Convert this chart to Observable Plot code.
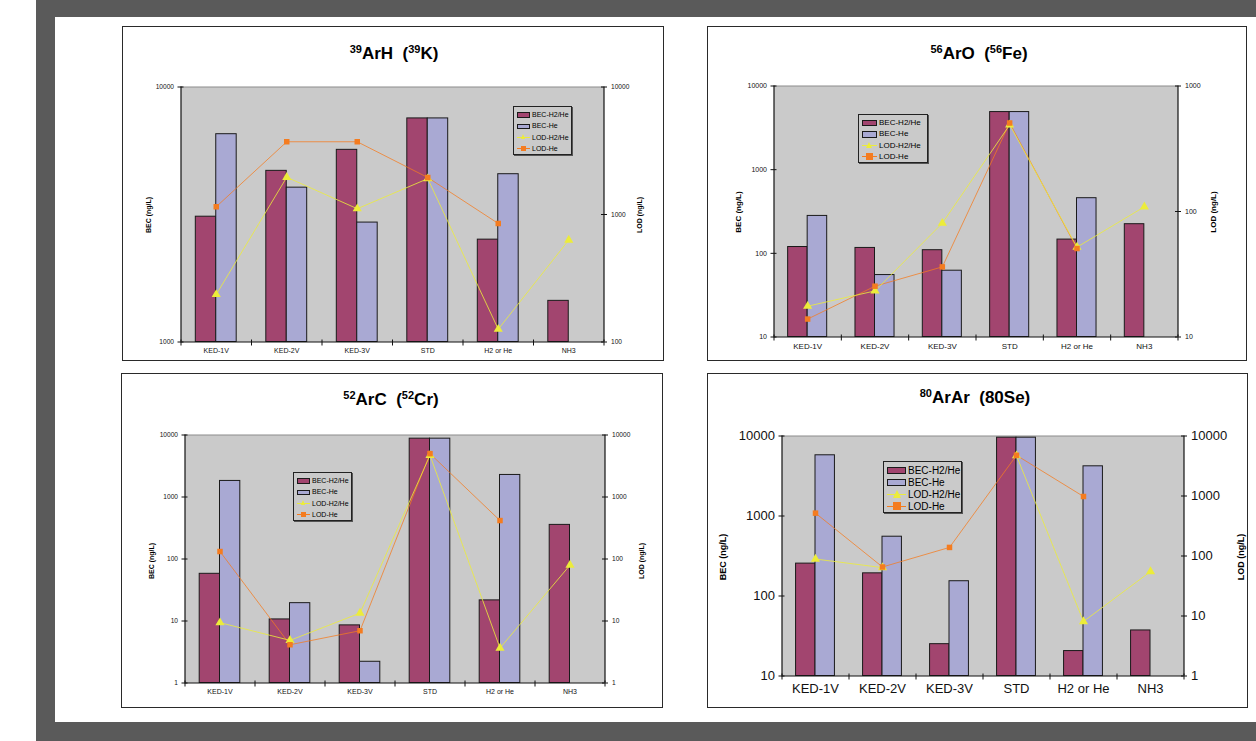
<!DOCTYPE html>
<html>
<head>
<meta charset="utf-8">
<script src="https://cdn.jsdelivr.net/npm/d3@7"></script>
<script src="https://cdn.jsdelivr.net/npm/@observablehq/plot@0.6"></script>
<style>
  html, body { margin: 0; padding: 0; background: #ffffff; }
  body { width: 1256px; height: 741px; position: relative; overflow: hidden; font-family: "Liberation Sans", Arial, sans-serif; }
  #dark { position: absolute; left: 36px; top: 0; width: 1220px; height: 741px; background: #5a5a5a; }
  #sheet { position: absolute; left: 55px; top: 17px; width: 1201px; height: 705px; background: #ffffff; }
  .panel { position: absolute; border: 1.5px solid #2a2a2a; box-sizing: border-box; background: #fff; }
  .panel svg { position: absolute; left: 0; top: 0; }
  .title { position: absolute; font-weight: bold; font-size: 17px; white-space: pre; transform: translateX(-50%); color: #000; line-height: 20px; }
  .title sup { font-size: 11px; vertical-align: 6px; line-height: 0; }
  .ylab { position: absolute; font-weight: bold; white-space: nowrap; transform: translate(-50%, -50%) rotate(-90deg); color: #000; }
  .legend { position: absolute; border: 1px solid #222; box-shadow: 1px 1px 0 #555; box-sizing: border-box; }
  .legend .row { position: absolute; left: 0; display: flex; align-items: center; white-space: nowrap; color: #000; }
  .sw { position: relative; display: inline-block; }
</style>
</head>
<body>
<div id="dark"></div>
<div id="sheet"></div>
<script>
// ---------- data ----------
const categories = ["KED-1V", "KED-2V", "KED-3V", "STD", "H2 or He", "NH3"];
const seriesNames = ["BEC-H2/He", "BEC-He", "LOD-H2/He", "LOD-He"];

// 39ArH (39K)
const arh_becH2He = [3100, 4690, 5670, 7530, 2520, 1450];
const arh_becHe   = [6530, 4030, 2940, 7530, 4550, null];
const arh_lodH2He = [236, 1960, 1110, 1910, 126, 630];
const arh_lodHe   = [1150, 3720, 3720, 1950, 850, null];

// 56ArO (56Fe)
const aro_becH2He = [119, 116, 109, 4880, 146, 223];
const aro_becHe   = [280, 55, 62, 4880, 456, null];
const aro_lodH2He = [17.6, 23.3, 80.7, 490, 52, 109];
const aro_lodHe   = [13.9, 25.4, 36.2, 507, 50.7, null];

// 52ArC (52Cr)
const arc_becH2He = [57.7, 10.6, 8.5, 8730, 21.5, 355];
const arc_becHe   = [1816, 19.4, 2.2, 8730, 2268, null];
const arc_lodH2He = [9.4, 4.87, 13.4, 4700, 3.66, 79.6];
const arc_lodHe   = [132, 4.14, 6.97, 5000, 417, null];

// 80ArAr (80Se)
const arar_becH2He = [254, 192, 25, 9530, 20.5, 37.1];
const arar_becHe   = [5740, 551, 153, 9530, 4180, null];
const arar_lodH2He = [89, 64, null, 4700, 8.1, 55];
const arar_lodHe   = [518, 65.6, 139, 4770, 981, null];

// axis domains (left BEC, right LOD)
const arh_left = [1000, 10000], arh_right = [100, 10000];
const aro_left = [10, 10000],   aro_right = [10, 1000];
const arc_left = [1, 10000],    arc_right = [1, 10000];
const arar_left = [10, 10000],  arar_right = [1, 10000];

// ---------- style ----------
const C = { bar1: "#a2456f", bar2: "#a9a9d3", lod1: "#ecec3a", lod2: "#f47c20", plotBg: "#cacaca" };

const panels = [
  { pre1: "39", main1: "ArH", pre2: "39", main2: "K)", frame: [122, 26, 542, 335],
    m: [61, 60, 19, 59], tcx: 271, ty: 17, left: arh_left, right: arh_right,
    b1: arh_becH2He, b2: arh_becHe, l1: arh_lodH2He, l2: arh_lodHe,
    fs: 6.6, cfs: 7, lab: { fs: 7, bx: 25, lx: 516, cy: 188 },
    leg: { x: 390, y: 79, w: 59, h: 49, fs: 7 } },
  { pre1: "56", main1: "ArO", pre2: "56", main2: "Fe)", frame: [707, 26, 540, 335],
    m: [60, 69, 24, 67], tcx: 271, ty: 17, left: aro_left, right: aro_right,
    b1: aro_becH2He, b2: aro_becHe, l1: aro_lodH2He, l2: aro_lodHe,
    fs: 7, cfs: 8, lab: { fs: 8, bx: 30, lx: 505, cy: 185 },
    leg: { x: 150, y: 87, w: 70, h: 49, fs: 8 } },
  { pre1: "52", main1: "ArC", pre2: "52", main2: "Cr)", frame: [121, 373, 542, 335],
    m: [62, 58, 25, 64], tcx: 269, ty: 16, left: arc_left, right: arc_right,
    b1: arc_becH2He, b2: arc_becHe, l1: arc_lodH2He, l2: arc_lodHe,
    fs: 6.6, cfs: 7, lab: { fs: 7, bx: 29, lx: 519, cy: 187 },
    leg: { x: 171, y: 98, w: 59, h: 49, fs: 7 } },
  { pre1: "80", main1: "ArAr", pre2: null, main2: "80Se)", frame: [707, 373, 541, 335],
    m: [63, 64, 32, 75], tcx: 267, ty: 14, left: arar_left, right: arar_right,
    b1: arar_becH2He, b2: arar_becHe, l1: arar_lodH2He, l2: arar_lodHe,
    fs: 13, cfs: 13, lab: { fs: 9, bx: 15, lx: 533, cy: 183 },
    leg: { x: 175, y: 87, w: 79, h: 52, fs: 10 } }
];

const decades = ([a, b]) => { const t = []; for (let v = a; v <= b * 1.0001; v *= 10) t.push(Math.round(v)); return t; };

// a short horizontal line used as a tick symbol on the secondary axis
const hline = { draw(context, size) { const r = Math.sqrt(size / Math.PI); context.moveTo(-r, 0); context.lineTo(r, 0); } };

function build(p) {
  const [fx, fy, fw, fh] = p.frame;
  const div = document.createElement("div");
  div.className = "panel";
  Object.assign(div.style, { left: fx + "px", top: fy + "px", width: fw + "px", height: fh + "px" });
  document.body.appendChild(div);

  const lL0 = Math.log10(p.left[0]), lL1 = Math.log10(p.left[1]);
  const lR0 = Math.log10(p.right[0]), lR1 = Math.log10(p.right[1]);
  const toLeft = v => (v == null ? NaN : Math.pow(10, lL0 + (Math.log10(v) - lR0) * (lL1 - lL0) / (lR1 - lR0)));

  const rows = categories.map((c, i) => ({ i, c, b1: p.b1[i], b2: p.b2[i], l1: p.l1[i], l2: p.l2[i] }));
  const bw = 0.29;
  const lo = p.left[0], hi = p.left[1];
  const xmin = -0.5, xmax = categories.length - 0.5;
  const leftTicks = decades(p.left);
  const rightRows = decades(p.right).map(v => ({ label: String(v), pos: toLeft(v) }));
  const idx = categories.map((_, i) => i);
  const bounds = d3.range(-0.5, categories.length, 1);

  const svg = Plot.plot({
    width: fw - 3, height: fh - 3,
    marginTop: p.m[0] - 1.5, marginRight: p.m[1] - 1.5, marginBottom: p.m[2] - 1.5, marginLeft: p.m[3] - 1.5,
    style: { fontFamily: "'Liberation Sans', Arial, sans-serif", background: "transparent", color: "#000", overflow: "visible" },
    x: { type: "linear", domain: [xmin, xmax], axis: null },
    y: { type: "log", domain: p.left, axis: null },
    marks: [
      Plot.frame({ fill: C.plotBg, stroke: null }),
      Plot.ruleY([hi], { stroke: "#8c8c8c", strokeWidth: 1.2 }),
      Plot.rect(rows.filter(d => d.b1 != null), { x1: d => d.i - bw, x2: d => d.i, y1: lo, y2: "b1", fill: C.bar1, stroke: "#1a1a1a", strokeWidth: 1 }),
      Plot.rect(rows.filter(d => d.b2 != null), { x1: d => d.i, x2: d => d.i + bw, y1: lo, y2: "b2", fill: C.bar2, stroke: "#1a1a1a", strokeWidth: 1 }),
      Plot.ruleX([xmin, xmax], { stroke: "#111", strokeWidth: 1.2 }),
      Plot.ruleY([lo], { stroke: "#111", strokeWidth: 1.2 }),
      Plot.axisY({ anchor: "left", ticks: leftTicks, tickFormat: d => String(d), tickSize: 6, dx: 3, tickPadding: 4, fontSize: p.fs, label: null, stroke: "#111", fill: "#111" }),
      // secondary (LOD) axis on the right
      Plot.dot(rightRows, { x: xmax, y: "pos", symbol: hline, r: 3, stroke: "#111", strokeWidth: 1 }),
      Plot.text(rightRows, { x: xmax, y: "pos", text: "label", dx: 7, textAnchor: "start", fontSize: p.fs, fill: "#111" }),
      Plot.axisX({ anchor: "bottom", ticks: bounds, tickFormat: () => "", tickSize: 6, dy: -2, label: null, stroke: "#111" }),
      Plot.axisX({ anchor: "bottom", ticks: idx, tickFormat: i => categories[i], tickSize: 0, tickPadding: p.fs > 10 ? 8 : 6, fontSize: p.cfs, label: null, fill: "#111" }),
      Plot.line(rows, { x: "i", y: d => toLeft(d.l2), stroke: C.lod2, strokeWidth: 0.9, strokeOpacity: 0.85 }),
      Plot.line(rows, { x: "i", y: d => toLeft(d.l1), stroke: C.lod1, strokeWidth: 0.9, strokeOpacity: 0.9 }),
      Plot.dot(rows.filter(d => d.l1 != null), { x: "i", y: d => toLeft(d.l1), symbol: "triangle", r: 3.4, fill: C.lod1, stroke: null }),
      Plot.dot(rows.filter(d => d.l2 != null), { x: "i", y: d => toLeft(d.l2), symbol: "square", r: 3.1, fill: C.lod2, stroke: null })
    ]
  });
  div.appendChild(svg);

  // title
  const t = document.createElement("div");
  t.className = "title";
  t.style.left = p.tcx + "px";
  t.style.top = p.ty + "px";
  t.innerHTML = `<sup>${p.pre1}</sup>${p.main1}  (` + (p.pre2 ? `<sup>${p.pre2}</sup>` : "") + p.main2;
  div.appendChild(t);

  // axis titles
  for (const [txt, x] of [["BEC (ng/L)", p.lab.bx], ["LOD (ng/L)", p.lab.lx]]) {
    const l = document.createElement("div");
    l.className = "ylab";
    l.textContent = txt;
    Object.assign(l.style, { left: x + "px", top: p.lab.cy + "px", fontSize: p.lab.fs + "px" });
    div.appendChild(l);
  }

  // legend
  const L = p.leg;
  const lg = document.createElement("div");
  lg.className = "legend";
  Object.assign(lg.style, { left: L.x + "px", top: L.y + "px", width: L.w + "px", height: L.h + "px" });
  const rowH = (L.h - 4) / 4;
  const swW = Math.round(L.fs * 1.85);
  seriesNames.forEach((name, k) => {
    const r = document.createElement("div");
    r.className = "row";
    Object.assign(r.style, { top: (2 + k * rowH) + "px", height: rowH + "px", left: "3px", fontSize: L.fs + "px" });
    const sw = document.createElement("span");
    sw.className = "sw";
    Object.assign(sw.style, { width: swW + "px", height: rowH + "px", marginRight: "2px" });
    if (k < 2) {
      const b = document.createElement("span");
      Object.assign(b.style, { position: "absolute", left: "0px", top: (rowH / 2 - L.fs * 0.33) + "px", width: (swW - 2) + "px", height: (L.fs * 0.55) + "px", background: k === 0 ? C.bar1 : C.bar2, border: "1px solid #1a1a1a" });
      sw.appendChild(b);
    } else {
      const col = k === 2 ? C.lod1 : C.lod2;
      const ln = document.createElement("span");
      Object.assign(ln.style, { position: "absolute", left: "0px", top: (rowH / 2 - 0.5) + "px", width: swW + "px", height: "1px", background: col });
      sw.appendChild(ln);
      const mk = document.createElement("span");
      const s = L.fs * 0.8;
      if (k === 2) {
        Object.assign(mk.style, { position: "absolute", left: (swW / 2 - s / 2) + "px", top: (rowH / 2 - s / 2) + "px", width: 0, height: 0, borderLeft: (s / 2) + "px solid transparent", borderRight: (s / 2) + "px solid transparent", borderBottom: s + "px solid " + col });
      } else {
        Object.assign(mk.style, { position: "absolute", left: (swW / 2 - s / 2) + "px", top: (rowH / 2 - s / 2) + "px", width: s + "px", height: s + "px", background: col });
      }
      sw.appendChild(mk);
    }
    r.appendChild(sw);
    const tx = document.createElement("span");
    tx.textContent = name;
    r.appendChild(tx);
    lg.appendChild(r);
  });
  div.appendChild(lg);
}

panels.forEach(build);
</script>
</body>
</html>
